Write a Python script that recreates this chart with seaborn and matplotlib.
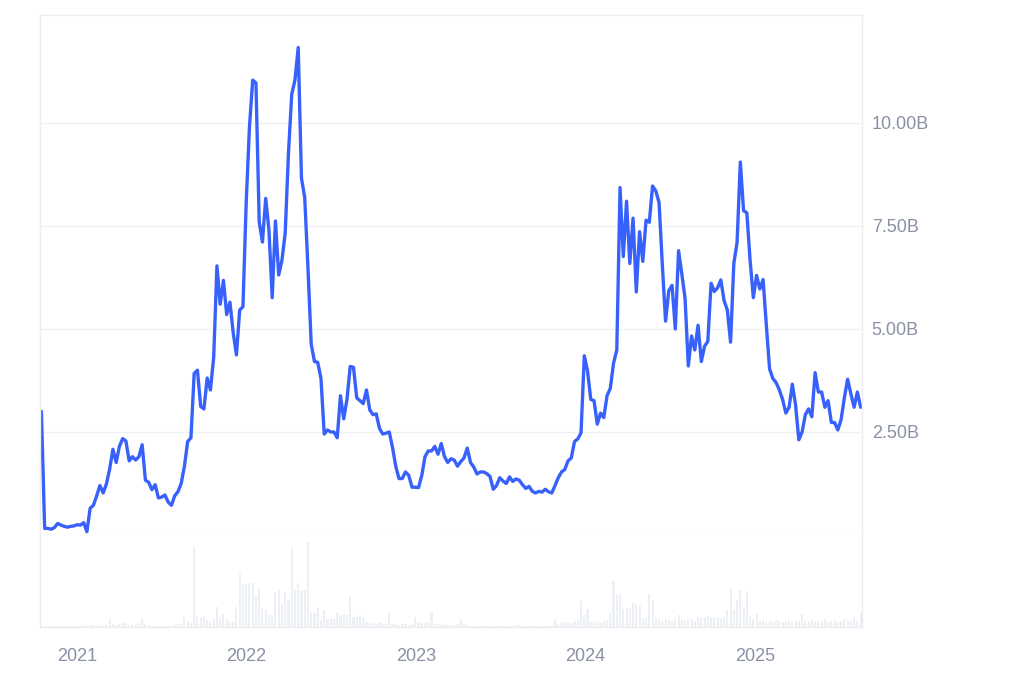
import pandas as pd
import seaborn as sns
import matplotlib
matplotlib.use("Agg")
import matplotlib.pyplot as plt
from matplotlib.ticker import FuncFormatter

# weekly series (billions)
start_date = "2020-10-16"
values = [
    3.0, 0.16, 0.16, 0.14, 0.18, 0.28, 0.24, 0.21, 0.19, 0.21, 0.22, 0.25, 0.24, 0.3, 0.08,
    0.65, 0.72, 0.95, 1.2, 1.02, 1.24, 1.6, 2.08, 1.76, 2.15, 2.34, 2.28, 1.8, 1.9, 1.82, 1.9,
    2.19, 1.33, 1.28, 1.1, 1.22, 0.9, 0.92, 0.97, 0.8, 0.72, 0.95, 1.05,
    # 2021 H2 - 2022
    1.25, 1.67, 2.27, 2.36, 3.92, 4.0, 3.12, 3.06, 3.81, 3.52, 4.31, 6.53, 5.6, 6.18, 5.35,
    5.65, 4.91, 4.37, 5.46, 5.54, 8.06, 9.9, 11.04, 10.97, 7.6, 7.11, 8.17, 7.4, 5.76, 7.62,
    6.31, 6.67, 7.33, 9.26, 10.69, 11.04, 11.83, 8.66, 8.19, 6.48, 4.63, 4.21, 4.19,
    # 2022 H2 - 2023
    3.8, 2.45, 2.55, 2.5, 2.5, 2.36, 3.38, 2.82, 3.29, 4.09, 4.07, 3.33, 3.26, 3.19, 3.52,
    3.04, 2.92, 2.94, 2.59, 2.45, 2.47, 2.5, 2.13, 1.67, 1.37, 1.37, 1.53, 1.45, 1.16, 1.16,
    1.15, 1.44, 1.9, 2.04, 2.04, 2.15, 1.96, 2.22, 1.9, 1.76, 1.85, 1.82, 1.67,
    # 2023 - early 2024
    1.78, 1.87, 2.11, 1.76, 1.65, 1.48, 1.53, 1.53, 1.49, 1.42, 1.11, 1.2, 1.39, 1.31, 1.25,
    1.41, 1.3, 1.36, 1.33, 1.22, 1.13, 1.18, 1.06, 1.02, 1.06, 1.04, 1.11, 1.05, 1.02, 1.2,
    1.39, 1.53, 1.59, 1.8, 1.87, 2.27, 2.33, 2.48, 4.35, 3.98, 3.29, 3.26, 2.69,
    # 2024
    2.96, 2.85, 3.38, 3.56, 4.17, 4.49, 8.43, 6.76, 8.1, 6.59, 7.69, 5.9, 7.36, 6.64, 7.64,
    7.59, 8.47, 8.35, 8.07, 6.57, 5.19, 5.93, 6.06, 5.0, 6.9, 6.34, 5.74, 4.1, 4.83, 4.49,
    5.09, 4.21, 4.58, 4.7, 6.11, 5.91, 6.0, 6.19, 5.69, 5.46, 4.68, 6.59, 7.1,
    # 2025
    9.05, 7.87, 7.82, 6.67, 5.76, 6.3, 5.97, 6.2, 5.09, 4.03, 3.8, 3.7, 3.52, 3.29, 2.96,
    3.1, 3.66, 3.15, 2.31, 2.5, 2.92, 3.06, 2.87, 3.94, 3.47, 3.47, 3.1, 3.26, 2.73, 2.73,
    2.55, 2.8, 3.33, 3.78, 3.43, 3.1, 3.47, 3.1,
]

# weekly volume (relative units)
volume = [
    1, 1, 1, 1, 1, 1, 1, 1, 1, 1, 1, 1, 1, 2, 1, 2, 2, 1, 2, 1,
    2, 8, 3, 2, 3, 5, 4, 2, 2, 3, 4, 8, 3, 2,
    1, 1, 1, 1, 1, 1, 1, 2,
    3, 3, 10, 6, 4, 80, 10, 10, 10, 7, 5, 8, 20, 8, 13, 8, 5, 5, 20, 53, 42, 43, 44, 44,
    31, 38, 18, 17, 12, 12, 35, 38, 23, 35, 27, 78, 38, 44, 36, 37, 85, 15, 14, 20, 7, 17,
    8, 8, 8, 15, 12, 12, 12, 31, 10, 10, 12, 9,
    5, 4, 4, 3, 4, 3, 4, 15, 3, 3, 2, 3, 3, 2, 3, 10, 5, 4, 4, 5, 15,
    3, 3, 2, 2, 3, 2, 2, 3, 8, 3,
    2, 1, 1, 1, 1, 1, 1, 1, 1, 1, 1, 1, 1, 1, 1, 2, 2, 1, 1, 1, 1, 1, 1, 1, 1, 1, 2,
    8, 3, 4, 5, 5, 4, 5, 8, 26, 12, 18, 5, 6, 5, 4, 6,
    7, 15, 46, 32, 32, 18, 19, 18, 24, 22, 21, 9, 9, 33, 27, 9,
    7, 6, 8, 7, 6, 7, 12, 7, 6, 7, 8, 6,
    10, 9, 10, 11, 10, 9, 10, 8, 10,
    17, 39, 17, 27, 37, 20, 36, 10, 8, 13,
    6, 7, 5, 6, 5, 7, 6, 5, 6, 7, 5, 6, 6, 13,
    6, 5, 7, 6, 5, 6, 8, 5, 6, 7, 5, 6, 8, 7, 6, 9, 6, 15,
]

year_ticks = ["2021", "2022", "2023", "2024", "2025"]
value_ticks = [2.5, 5.0, 7.5, 10.0]

assert len(values) == len(volume)
dates = pd.date_range(start_date, periods=len(values), freq="7D")
df = pd.DataFrame({"date": dates, "value": values, "volume": volume})

sns.set_theme(style="white")
plt.rcParams["font.family"] = ["Liberation Sans", "DejaVu Sans"]

W, H = 1024, 683
fig = plt.figure(figsize=(W / 100, H / 100), dpi=100)
ax = fig.add_axes([40 / W, 1 - 535 / H, 822 / W, 520 / H])
axv = fig.add_axes([40 / W, 1 - 627 / H, 822 / W, 92 / H], sharex=ax)

frame = "#ebedf0"
grid = "#eff1f3"
txt = "#8a91a5"

axv.bar(df["date"], df["volume"], width=4.5, color="#eceff3", linewidth=0)
sns.lineplot(data=df, x="date", y="value", ax=ax, color="#3861fb", linewidth=2.4)

ax.set_xlim(dates[0] - pd.Timedelta(days=3), dates[-1] + pd.Timedelta(days=3))
ax.set_ylim(0, 12.62)
axv.set_ylim(0, 92)

ax.yaxis.tick_right()
ax.set_yticks(value_ticks)
ax.yaxis.set_major_formatter(FuncFormatter(lambda v, p: f"{v:.2f}B"))
ax.tick_params(axis="y", length=0, pad=7, labelsize=13, labelcolor=txt)
ax.tick_params(axis="x", length=0, labelbottom=False)
ax.grid(axis="y", color=grid, linewidth=1)
ax.set_xlabel("")
ax.set_ylabel("")

axv.set_yticks([])
axv.set_xticks([pd.Timestamp(f"{y}-01-01") for y in year_ticks])
axv.set_xticklabels(year_ticks)
axv.tick_params(axis="x", length=0, pad=15, labelsize=13, labelcolor=txt)

for a in (ax, axv):
    for s in a.spines.values():
        s.set_color(frame)
        s.set_linewidth(1)
axv.spines["top"].set_visible(False)

fig.savefig("out.png", dpi=100)
